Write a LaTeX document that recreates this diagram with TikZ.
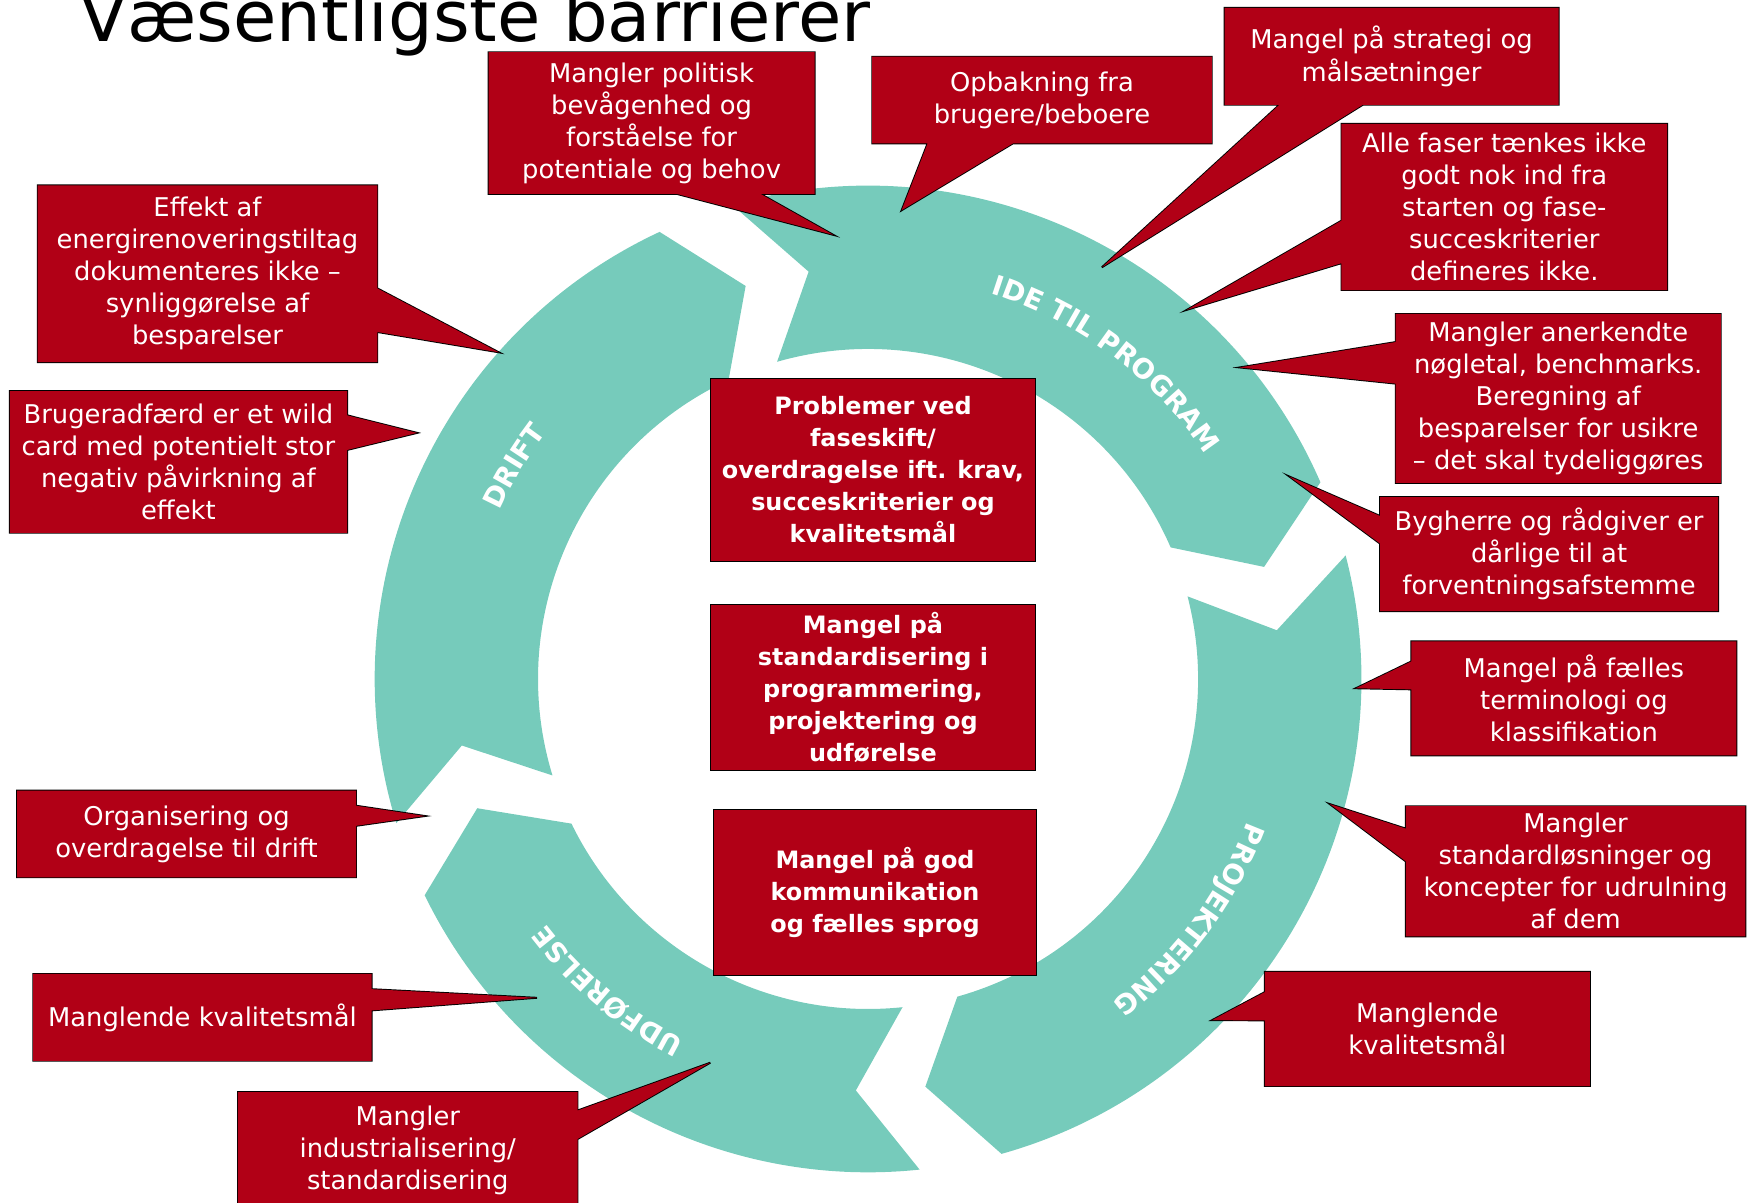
\documentclass[tikz,border=0pt]{standalone}
\usepackage{fontspec}
\setmainfont{DejaVu Sans}
\usetikzlibrary{calc, backgrounds, decorations.text}
\definecolor{barrierred}{RGB}{177,0,22}
\definecolor{phaseteal}{RGB}{118,203,187}
\newcommand{\boxfont}{\fontsize{16.4}{20.35}\selectfont}
\newcommand{\keyfont}{\fontsize{15.2}{20.35}\selectfont\bfseries}
\newcommand{\phasefont}{\fontsize{17.4}{20}\selectfont\bfseries\color{white}}

\begin{document}
\begin{tikzpicture}[x=0.025cm, y=0.025cm,
    barrier/.style={inner sep=0pt, align=center, text=white, font=\boxfont},
    keyissue/.style={barrier, font=\keyfont, fill=barrierred, draw=black, line width=0.6pt},
    box size/.style 2 args={minimum width=#1*0.025cm, minimum height=#2*0.025cm},
    callout/.style={fill=barrierred, preaction={draw=black, line width=1.2pt}},
    phase/.style={fill=phaseteal},
    phase label/.style={decorate, decoration={text along path, text align=center, text={|\phasefont|#1}}}]
    \useasboundingbox (0,0) rectangle (1568,1075);

    \node[anchor=base west, font=\fontsize{44.8}{50}\selectfont] (Title) at (66,1038) {Væsentligste barrierer};

    % barriers round the ring
    \node[barrier, box size={291}{126}] (Politisk) at (582.5,965) {Mangler politisk\\ bevågenhed og\\ forståelse for\\ potentiale og behov};
    \node[barrier, box size={303}{157.5}] (Effekt) at (185.5,830.25) {Effekt af\\ energirenoveringstiltag\\ dokumenteres ikke –\\ synliggørelse af\\ besparelser};
    \node[barrier, box size={301}{126}] (Brugeradfaerd) at (159.5,662) {Brugeradfærd er et wild\\ card med potentielt stor\\ negativ påvirkning af\\ effekt};
    \node[barrier, box size={302.5}{77}] (Organisering) at (166.75,329.5) {Organisering og\\ overdragelse til drift};
    \node[barrier, box size={302}{77}] (KvalitetV) at (181,165.5) {Manglende kvalitetsmål};
    \node[barrier, box size={303}{103.5}] (Industri) at (364.5,46.75) {Mangler\\ industrialisering/\\ standardisering};
    \node[barrier, box size={303}{77}] (Opbakning) at (931.5,985.5) {Opbakning fra\\ brugere/beboere};
    \node[barrier, box size={298}{86}] (Strategi) at (1244,1024.6) {Mangel på strategi og\\ målsætninger};
    \node[barrier, box size={290.5}{148}] (Faser) at (1344.75,890) {Alle faser tænkes ikke\\ godt nok ind fra\\ starten og fase-\\ succeskriterier\\ defineres ikke.};
    \node[barrier, box size={290}{150.5}] (Noegletal) at (1393,718.75) {Mangler anerkendte\\ nøgletal, benchmarks.\\ Beregning af\\ besparelser for usikre\\ – det skal tydeliggøres};
    \node[barrier, box size={301.6}{101.4}] (Bygherre) at (1384.8,579.7) {Bygherre og rådgiver er\\ dårlige til at\\ forventningsafstemme};
    \node[barrier, box size={290}{101.4}] (Terminologi) at (1407,450.7) {Mangel på fælles\\ terminologi og\\ klassifikation};
    \node[barrier, box size={303}{115.8}] (Standardloesninger) at (1408.5,296.1) {Mangler\\ standardløsninger og\\ koncepter for udrulning\\ af dem};
    \node[barrier, box size={290}{101.6}] (KvalitetH) at (1276,155.2) {Manglende\\ kvalitetsmål};

    % key issues in the middle
    \node[keyissue, box size={290.8}{164}] (Faseskift) at (780.4,655) {Problemer ved\\ faseskift/\\ overdragelse ift. krav,\\ succeskriterier og\\ kvalitetsmål};
    \node[keyissue, box size={290.8}{148.5}] (Standardisering) at (780.4,460.75) {Mangel på\\ standardisering i\\ programmering,\\ projektering og\\ udførelse};
    \node[keyissue, box size={289.5}{148}] (Kommunikation) at (782.25,277) {Mangel på god\\ kommunikation\\ og fælles sprog};

    % where the pointers end on the ring
    \coordinate (PolitiskTip) at (745,865);
    \coordinate (EffektTip) at (446,760);
    \coordinate (BrugeradfaerdTip) at (373,688);
    \coordinate (OrganiseringTip) at (380,345.5);
    \coordinate (KvalitetVTip) at (480,183);
    \coordinate (IndustriTip) at (635,125);
    \coordinate (OpbakningTip) at (806,887);
    \coordinate (StrategiTip) at (985,836);
    \coordinate (FaserTip) at (1061,798);
    \coordinate (NoegletalTip) at (1108,746.5);
    \coordinate (BygherreTip) at (1152.6,649);
    \coordinate (TerminologiTip) at (1212,459.7);
    \coordinate (StandardloesningerTip) at (1188.7,356.2);
    \coordinate (KvalitetHTip) at (1083.5,163);

    \begin{pgfonlayer}{background}
        \begin{scope}[shift={(776,468)}]
            % the four phases, tail angle / head angle
            \foreach \tail/\head in {106/23.5, 14.5/-74.3, -84/-154, -163/-245}
                \fill[phase] (\tail:441) arc[start angle=\tail, end angle=\head, radius=441]
                    -- ({\head-7.7}:368) -- (\head:295)
                    arc[start angle=\head, end angle=\tail, radius=295]
                    -- ({\tail-7.7}:368) -- cycle;
            \path[phase label={IDE TIL PROGRAM}] (93:362) arc[start angle=93, end angle=13, radius=362];
            \path[phase label={PROJEKTERING}] (3.2:362) arc[start angle=3.2, end angle=-76.8, radius=362];
            \path[phase label={UDFØRELSE}] (-89.8:362) arc[start angle=-89.8, end angle=-169.8, radius=362];
            \path[phase label={DRIFT}] (189:362) arc[start angle=189, end angle=109, radius=362];
        \end{scope}

        % callout boxes with their pointers
        \path[callout] (Politisk.south west) rectangle (Politisk.north east)
            ($(Politisk.south west)+(168,0)$) -- (PolitiskTip) -- ($(Politisk.south west)+(243,0)$) -- cycle;
        \path[callout] (Effekt.south west) rectangle (Effekt.north east)
            ($(Effekt.south east)+(0,27)$) -- (EffektTip) -- ($(Effekt.south east)+(0,66)$) -- cycle;
        \path[callout] (Brugeradfaerd.south west) rectangle (Brugeradfaerd.north east)
            ($(Brugeradfaerd.south east)+(0,74)$) -- (BrugeradfaerdTip) -- ($(Brugeradfaerd.south east)+(0,105)$) -- cycle;
        \path[callout] (Organisering.south west) rectangle (Organisering.north east)
            ($(Organisering.south east)+(0,46)$) -- (OrganiseringTip) -- ($(Organisering.south east)+(0,64)$) -- cycle;
        \path[callout] (KvalitetV.south west) rectangle (KvalitetV.north east)
            ($(KvalitetV.south east)+(0,45)$) -- (KvalitetVTip) -- ($(KvalitetV.south east)+(0,64)$) -- cycle;
        \path[callout] (Industri.south west) rectangle (Industri.north east)
            ($(Industri.south east)+(0,62)$) -- (IndustriTip) -- ($(Industri.south east)+(0,87.5)$) -- cycle;
        \path[callout] (Opbakning.south west) rectangle (Opbakning.north east)
            ($(Opbakning.south west)+(49.5,0)$) -- (OpbakningTip) -- ($(Opbakning.south west)+(125.7,0)$) -- cycle;
        \path[callout] (Strategi.south west) rectangle (Strategi.north east)
            ($(Strategi.south west)+(49,0)$) -- (StrategiTip) -- ($(Strategi.south west)+(123.6,0)$) -- cycle;
        \path[callout] (Faser.south west) rectangle (Faser.north east)
            ($(Faser.south west)+(0,24)$) -- (FaserTip) -- ($(Faser.south west)+(0,62)$) -- cycle;
        \path[callout] (Noegletal.south west) rectangle (Noegletal.north east)
            ($(Noegletal.south west)+(0,88.8)$) -- (NoegletalTip) -- ($(Noegletal.south west)+(0,126)$) -- cycle;
        \path[callout] (Bygherre.south west) rectangle (Bygherre.north east)
            ($(Bygherre.south west)+(0,60.3)$) -- (BygherreTip) -- ($(Bygherre.south west)+(0,85)$) -- cycle;
        \path[callout] (Terminologi.south west) rectangle (Terminologi.north east)
            ($(Terminologi.south west)+(0,59)$) -- (TerminologiTip) -- ($(Terminologi.south west)+(0,84)$) -- cycle;
        \path[callout] (Standardloesninger.south west) rectangle (Standardloesninger.north east)
            ($(Standardloesninger.south west)+(0,67)$) -- (StandardloesningerTip) -- ($(Standardloesninger.south west)+(0,96.3)$) -- cycle;
        \path[callout] (KvalitetH.south west) rectangle (KvalitetH.north east)
            ($(KvalitetH.south west)+(0,58.7)$) -- (KvalitetHTip) -- ($(KvalitetH.south west)+(0,84)$) -- cycle;
    \end{pgfonlayer}
\end{tikzpicture}
\end{document}
